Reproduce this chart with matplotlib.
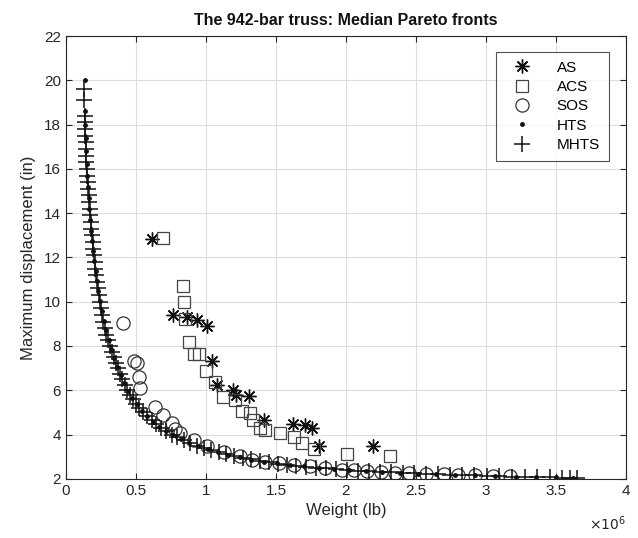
import matplotlib
matplotlib.use("Agg")
import matplotlib.pyplot as plt

plt.rcParams['font.family'] = ['Liberation Sans', 'DejaVu Sans']

# Weights in units of 1e6 lb, displacement in inches
as_x = [0.614, 0.764, 0.864, 0.936, 1.007, 1.043, 1.079, 1.190, 1.216, 1.310,
        1.416, 1.621, 1.709, 1.757, 1.804, 2.190]
as_y = [12.82, 9.40, 9.33, 9.18, 8.91, 7.34, 6.24, 5.99, 5.79, 5.72,
        4.66, 4.47, 4.44, 4.29, 3.50, 3.50]

acs_x = [0.693, 0.833, 0.840, 0.852, 0.876, 0.911, 0.947, 1.002, 1.066, 1.119,
         1.209, 1.257, 1.311, 1.336, 1.388, 1.420, 1.526, 1.626, 1.686, 1.769,
         2.011, 2.316]
acs_y = [12.87, 10.71, 9.98, 9.21, 8.20, 7.64, 7.64, 6.89, 6.39, 5.69,
         5.57, 5.08, 4.99, 4.66, 4.29, 4.21, 4.06, 3.88, 3.61, 3.34,
         3.13, 3.01]

sos_x = [0.404, 0.483, 0.507, 0.519, 0.531, 0.638, 0.695, 0.757, 0.781, 0.816,
         0.911, 1.007, 1.126, 1.245, 1.329, 1.420, 1.520, 1.626, 1.745, 1.850,
         1.970, 2.060, 2.150, 2.250, 2.350, 2.450, 2.570, 2.700, 2.800, 2.920,
         3.050, 3.170]
sos_y = [9.03, 7.30, 7.22, 6.62, 6.09, 5.26, 4.89, 4.51, 4.24, 4.06,
         3.76, 3.46, 3.23, 3.01, 2.86, 2.77, 2.70, 2.63, 2.56, 2.48,
         2.42, 2.38, 2.35, 2.31, 2.28, 2.26, 2.23, 2.20, 2.18, 2.15,
         2.13, 2.11]

hts_x = [0.133, 0.135, 0.137, 0.140, 0.143, 0.147, 0.151, 0.156, 0.161, 0.167,
         0.173, 0.180, 0.187, 0.195, 0.203, 0.212, 0.222, 0.232, 0.244, 0.257,
         0.271, 0.287, 0.305, 0.324, 0.344, 0.366, 0.390, 0.415, 0.442, 0.472,
         0.505, 0.540, 0.578, 0.620, 0.664, 0.712, 0.764, 0.820, 0.880, 0.944,
         1.012, 1.084, 1.160, 1.240, 1.324, 1.412, 1.504, 1.600, 1.700, 1.804,
         1.912, 2.024, 2.140, 2.260, 2.384, 2.512, 2.644, 2.780, 2.920, 3.064,
         3.212, 3.360, 3.500, 3.620]
hts_y = [20.00, 18.60, 18.00, 17.40, 16.80, 16.20, 15.70, 15.20, 14.70, 14.20,
         13.70, 13.20, 12.75, 12.30, 11.85, 11.40, 10.95, 10.50, 10.05, 9.60,
         9.15, 8.70, 8.25, 7.85, 7.45, 7.05, 6.68, 6.32, 5.98, 5.66,
         5.36, 5.08, 4.82, 4.58, 4.36, 4.15, 3.96, 3.78, 3.62, 3.47,
         3.33, 3.20, 3.08, 2.97, 2.87, 2.78, 2.70, 2.63, 2.57, 2.51,
         2.45, 2.40, 2.35, 2.31, 2.27, 2.24, 2.21, 2.18, 2.15, 2.13,
         2.10, 2.08, 2.06, 2.04]

mhts_x = [0.131, 0.131, 0.134, 0.136, 0.137, 0.139, 0.140, 0.142, 0.144, 0.146,
          0.149, 0.152, 0.155, 0.158, 0.162, 0.165, 0.169, 0.173, 0.177, 0.181,
          0.185, 0.190, 0.194, 0.199, 0.204, 0.209, 0.215, 0.221, 0.227, 0.233,
          0.240, 0.248, 0.257, 0.266, 0.276, 0.287, 0.299, 0.312, 0.326, 0.340,
          0.355, 0.370, 0.386, 0.402, 0.419, 0.436, 0.455, 0.476, 0.499, 0.524,
          0.551, 0.580, 0.611, 0.644, 0.679, 0.716, 0.755, 0.796, 0.840, 0.886,
          0.935, 0.985, 1.037, 1.091, 1.146, 1.203, 1.262, 1.322, 1.384, 1.447,
          1.512, 1.578, 1.646, 1.715, 1.786, 1.858, 1.932, 2.007, 2.084, 2.162,
          2.241, 2.322, 2.404, 2.487, 2.571, 2.656, 2.742, 2.829, 2.917, 3.006,
          3.096, 3.186, 3.276, 3.366, 3.456, 3.546, 3.600, 3.650]
mhts_y = [19.60, 19.10, 18.40, 18.10, 17.80, 17.50, 17.20, 16.90, 16.60, 16.30,
          16.00, 15.70, 15.40, 15.10, 14.80, 14.50, 14.20, 13.90, 13.60, 13.30,
          13.00, 12.70, 12.40, 12.10, 11.80, 11.50, 11.20, 10.90, 10.60, 10.30,
          10.00, 9.70, 9.40, 9.10, 8.80, 8.50, 8.25, 8.00, 7.75, 7.50,
          7.25, 7.00, 6.75, 6.50, 6.25, 6.00, 5.80, 5.60, 5.40, 5.20,
          5.00, 4.82, 4.64, 4.46, 4.30, 4.15, 4.00, 3.87, 3.74, 3.62,
          3.50, 3.39, 3.29, 3.20, 3.11, 3.03, 2.95, 2.88, 2.81, 2.75,
          2.69, 2.64, 2.59, 2.55, 2.51, 2.47, 2.43, 2.40, 2.37, 2.34,
          2.31, 2.29, 2.27, 2.25, 2.23, 2.21, 2.19, 2.17, 2.15, 2.13,
          2.12, 2.10, 2.09, 2.07, 2.06, 2.05, 2.04, 2.03]

x_ticks = [0, 0.5, 1, 1.5, 2, 2.5, 3, 3.5, 4]
x_ticklabels = ['0', '0.5', '1', '1.5', '2', '2.5', '3', '3.5', '4']
y_ticks = [2, 4, 6, 8, 10, 12, 14, 16, 18, 20, 22]

fig = plt.figure(figsize=(6.38, 5.38), dpi=100)
ax = fig.add_axes([0.1034, 0.110, 0.8777, 0.823])

ax.plot(as_x, as_y, linestyle='none', marker=(8, 2, 0), markersize=10,
        color='#111111', markeredgewidth=1.0, label='AS')
ax.plot(acs_x, acs_y, linestyle='none', marker='s', markersize=9,
        markerfacecolor='none', markeredgecolor='#444444', markeredgewidth=0.9, label='ACS')
ax.plot(sos_x, sos_y, linestyle='none', marker='o', markersize=9.5,
        markerfacecolor='none', markeredgecolor='#333333', markeredgewidth=0.9, label='SOS')
ax.plot(hts_x, hts_y, linestyle='none', marker='.', markersize=5,
        color='#111111', label='HTS')
ax.plot(mhts_x, mhts_y, linestyle='none', marker='+', markersize=12,
        color='#111111', markeredgewidth=1.1, label='MHTS')

ax.set_xlim(0, 4)
ax.set_ylim(2, 22)
ax.set_xticks(x_ticks)
ax.set_xticklabels(x_ticklabels)
ax.set_yticks(y_ticks)
ax.grid(True, color='#dddddd', linewidth=0.8)
ax.set_axisbelow(True)
ax.tick_params(direction='in', top=True, right=True, length=4, width=0.8,
               colors='#262626', labelsize=11, labelcolor='#262626')
for s in ax.spines.values():
    s.set_color('#262626')
    s.set_linewidth(0.8)

ax.set_xlabel('Weight (lb)', fontsize=12, color='#262626', labelpad=4)
ax.set_ylabel('Maximum displacement (in)', fontsize=12, color='#262626', labelpad=6)
ax.set_title('The 942-bar truss: Median Pareto fronts', fontsize=11.5,
             fontweight='bold', color='#111111', pad=8)
ax.text(1.0, -0.08, r'$\times 10^6$', transform=ax.transAxes, ha='right',
        va='top', fontsize=10, color='#262626')

leg = ax.legend(loc='upper right', bbox_to_anchor=(0.97, 0.965), fontsize=11,
                frameon=True, fancybox=False, edgecolor='#262626',
                borderpad=0.6, labelspacing=0.35, handletextpad=1.2,
                handlelength=2.2, borderaxespad=0)
leg.get_frame().set_linewidth(0.8)

fig.savefig('out.png', dpi=100)
